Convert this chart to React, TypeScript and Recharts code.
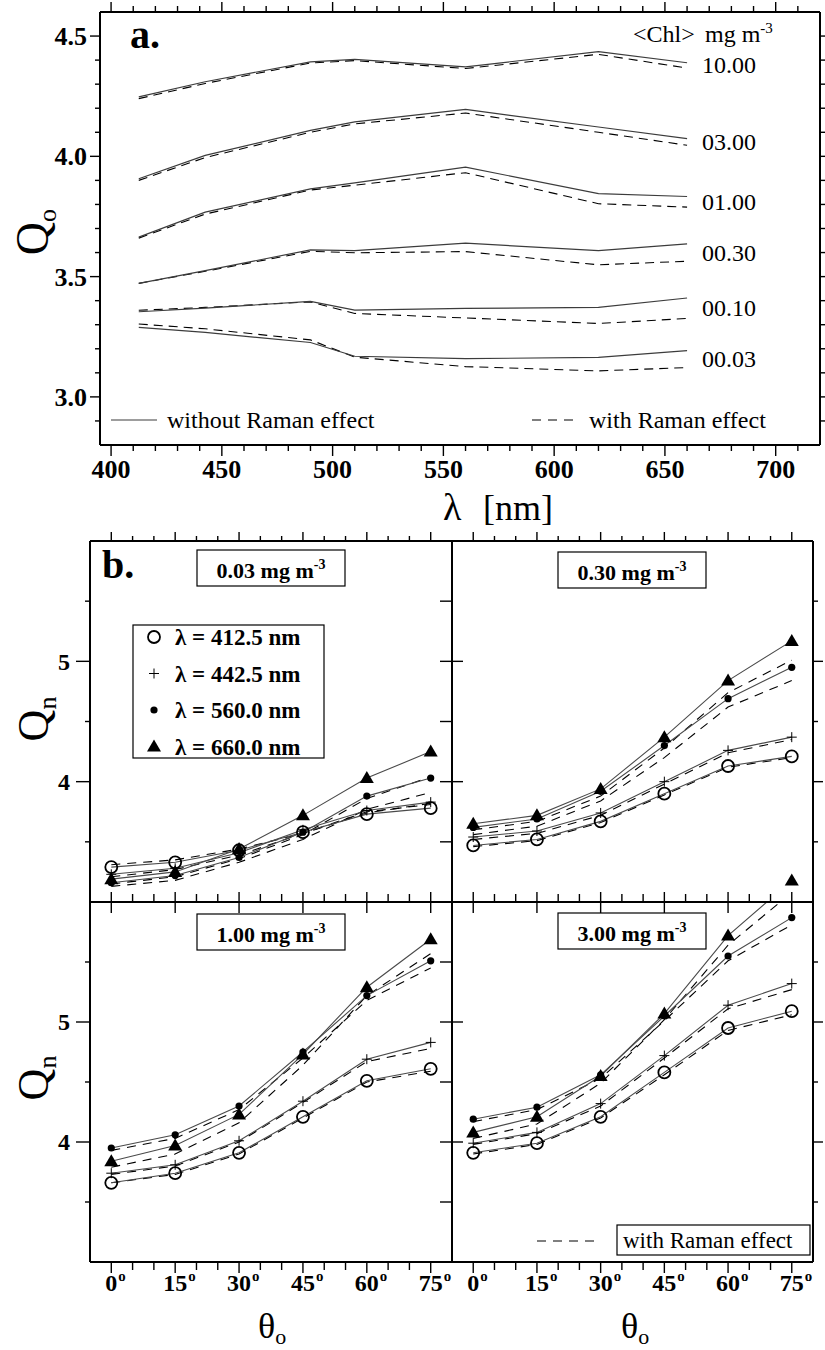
import type { FC, ReactNode } from "react"
import { LineChart, Line, XAxis, YAxis, LabelList } from "recharts"

const SERIF = '"Liberation Serif", "Times New Roman", Times, serif'
const INK = "#000"
const FRAME = { stroke: INK, strokeWidth: 2 }

// ---------- panel a: Q0 against wavelength ----------
const wavelengths = [412.5, 442.5, 490, 510, 560, 620, 660]
const lambdaTicks = [400, 410, 420, 430, 440, 450, 460, 470, 480, 490, 500, 510, 520, 530, 540, 550, 560, 570, 580, 590, 600, 610, 620, 630, 640, 650, 660, 670, 680, 690, 700, 710]
const lambdaLabels = [400, 450, 500, 550, 600, 650, 700]
const qoTicks = [2.9, 3.0, 3.1, 3.2, 3.3, 3.4, 3.5, 3.6, 3.7, 3.8, 3.9, 4.0, 4.1, 4.2, 4.3, 4.4, 4.5]
const qoLabels = [3.0, 3.5, 4.0, 4.5]

const qo10 = [4.247, 4.31, 4.393, 4.403, 4.372, 4.435, 4.389]
const qo10Raman = [4.24, 4.303, 4.388, 4.398, 4.365, 4.424, 4.367]
const qo3 = [3.907, 4.004, 4.108, 4.143, 4.195, 4.122, 4.074]
const qo3Raman = [3.9, 3.995, 4.1, 4.135, 4.18, 4.1, 4.046]
const qo1 = [3.664, 3.768, 3.865, 3.89, 3.955, 3.845, 3.833]
const qo1Raman = [3.66, 3.76, 3.86, 3.88, 3.932, 3.803, 3.789]
const qo03 = [3.472, 3.525, 3.611, 3.608, 3.639, 3.608, 3.636]
const qo03Raman = [3.472, 3.522, 3.605, 3.599, 3.604, 3.549, 3.564]
const qo01 = [3.354, 3.369, 3.397, 3.361, 3.368, 3.372, 3.411]
const qo01Raman = [3.36, 3.372, 3.395, 3.347, 3.328, 3.305, 3.326]
const qo003 = [3.289, 3.268, 3.226, 3.169, 3.159, 3.164, 3.192]
const qo003Raman = [3.303, 3.283, 3.237, 3.165, 3.126, 3.108, 3.122]

const qoSeries = [
  { name: "10.00", key: "c10", plain: qo10, raman: qo10Raman },
  { name: "03.00", key: "c3", plain: qo3, raman: qo3Raman },
  { name: "01.00", key: "c1", plain: qo1, raman: qo1Raman },
  { name: "00.30", key: "c03", plain: qo03, raman: qo03Raman },
  { name: "00.10", key: "c01", plain: qo01, raman: qo01Raman },
  { name: "00.03", key: "c003", plain: qo003, raman: qo003Raman },
]

const qoRows = wavelengths.map((wl, i) => {
  const row: Record<string, number> = { wl }
  qoSeries.forEach((s) => {
    row[s.key] = s.plain[i]
    row[s.key + "R"] = s.raman[i]
  })
  return row
})

// ---------- panel b: Qn against solar zenith angle ----------
const zenithAngles = [0, 15, 30, 45, 60, 75]
const thetaTicks = [0, 5, 10, 15, 20, 25, 30, 35, 40, 45, 50, 55, 60, 65, 70, 75]
const thetaLabels = [0, 15, 30, 45, 60, 75]
const qnTicks = [3.5, 4, 4.5, 5, 5.5]
const qnMajor = [4, 5]

const qn003_412 = [3.29, 3.33, 3.43, 3.58, 3.73, 3.78]
const qn003_442 = [3.23, 3.28, 3.41, 3.6, 3.76, 3.83]
const qn003_560 = [3.16, 3.22, 3.37, 3.58, 3.88, 4.03]
const qn003_660 = [3.19, 3.25, 3.44, 3.72, 4.03, 4.25]
const qn003_412r = [3.31, 3.35, 3.44, 3.57, 3.75, 3.81]
const qn003_442r = [3.21, 3.27, 3.39, 3.57, 3.74, 3.82]
const qn003_560r = [3.13, 3.18, 3.33, 3.52, 3.77, 3.91]
const qn003_660r = [3.15, 3.21, 3.36, 3.56, 3.86, 4.04]

const qn030_412 = [3.47, 3.52, 3.67, 3.9, 4.13, 4.21]
const qn030_442 = [3.54, 3.59, 3.74, 4.0, 4.26, 4.37]
const qn030_560 = [3.62, 3.69, 3.92, 4.3, 4.69, 4.95]
const qn030_660 = [3.65, 3.72, 3.94, 4.37, 4.84, 5.17]
const qn030_412r = [3.46, 3.51, 3.66, 3.89, 4.12, 4.2]
const qn030_442r = [3.52, 3.57, 3.72, 3.98, 4.24, 4.35]
const qn030_560r = [3.56, 3.63, 3.84, 4.2, 4.62, 4.84]
const qn030_660r = [3.6, 3.67, 3.88, 4.28, 4.74, 5.01]

const qn100_412 = [3.66, 3.74, 3.91, 4.21, 4.51, 4.61]
const qn100_442 = [3.74, 3.81, 4.01, 4.34, 4.69, 4.83]
const qn100_560 = [3.95, 4.06, 4.3, 4.75, 5.22, 5.51]
const qn100_660 = [3.84, 3.97, 4.23, 4.73, 5.29, 5.69]
const qn100_412r = [3.66, 3.73, 3.9, 4.2, 4.5, 4.59]
const qn100_442r = [3.73, 3.8, 4.0, 4.33, 4.67, 4.78]
const qn100_560r = [3.93, 4.03, 4.27, 4.7, 5.18, 5.45]
const qn100_660r = [3.79, 3.9, 4.16, 4.64, 5.22, 5.57]

const qn300_412 = [3.91, 3.99, 4.21, 4.58, 4.95, 5.09]
const qn300_442 = [3.99, 4.08, 4.32, 4.72, 5.14, 5.32]
const qn300_560 = [4.19, 4.29, 4.56, 5.05, 5.55, 5.87]
const qn300_660 = [4.08, 4.21, 4.55, 5.07, 5.72, 6.18]
const qn300_412r = [3.9, 3.98, 4.2, 4.56, 4.93, 5.06]
const qn300_442r = [3.98, 4.07, 4.3, 4.7, 5.11, 5.27]
const qn300_560r = [4.17, 4.27, 4.53, 5.01, 5.51, 5.81]
const qn300_660r = [4.03, 4.15, 4.49, 5.02, 5.64, 6.08]

type MarkerKind = "circle" | "plus" | "dot" | "triangle"

const bands: { key: string; label: string; marker: MarkerKind }[] = [
  { key: "b412", label: "412.5", marker: "circle" },
  { key: "b442", label: "442.5", marker: "plus" },
  { key: "b560", label: "560.0", marker: "dot" },
  { key: "b660", label: "660.0", marker: "triangle" },
]

interface QnPanelDef {
  title: string
  col: 0 | 1
  row: 0 | 1
  plain: number[][]
  raman: number[][]
}

const qnPanels: QnPanelDef[] = [
  { title: "0.03", col: 0, row: 0, plain: [qn003_412, qn003_442, qn003_560, qn003_660], raman: [qn003_412r, qn003_442r, qn003_560r, qn003_660r] },
  { title: "0.30", col: 1, row: 0, plain: [qn030_412, qn030_442, qn030_560, qn030_660], raman: [qn030_412r, qn030_442r, qn030_560r, qn030_660r] },
  { title: "1.00", col: 0, row: 1, plain: [qn100_412, qn100_442, qn100_560, qn100_660], raman: [qn100_412r, qn100_442r, qn100_560r, qn100_660r] },
  { title: "3.00", col: 1, row: 1, plain: [qn300_412, qn300_442, qn300_560, qn300_660], raman: [qn300_412r, qn300_442r, qn300_560r, qn300_660r] },
]

// ---------- shared helpers ----------
type Side = "left" | "right" | "top" | "bottom"

interface TickSpec {
  side: Side
  major: [number, number]
  minor: [number, number]
  majors: number[]
  labels?: number[]
  format?: (v: number) => string
  gap?: number
  fontSize?: number
  degree?: boolean
}

const OUT: Record<Side, [number, number]> = { left: [-1, 0], right: [1, 0], top: [0, -1], bottom: [0, 1] }
const near = (list: number[], v: number) => list.some((m) => Math.abs(m - v) < 1e-6)

// draws tick marks of two lengths along the normal of the frame edge, plus optional labels
const axisTick = (spec: TickSpec) => (props: any) => {
  const { x, y, payload } = props
  const v: number = payload.value
  const [nx, ny] = OUT[spec.side]
  const [a, b] = near(spec.majors, v) ? spec.major : spec.minor
  const fs = spec.fontSize ?? 24
  const gap = spec.gap ?? 0
  let label: ReactNode = null
  if (spec.labels && near(spec.labels, v)) {
    const txt = spec.format ? spec.format(v) : String(v)
    if (spec.side === "left") {
      label = (
        <text x={x - gap} y={y} dy="0.35em" textAnchor="end" fontSize={fs} fontWeight="bold" fontFamily={SERIF} fill={INK}>
          {txt}
        </text>
      )
    } else {
      const base = y + gap + fs * 0.68
      label = (
        <g>
          <text x={x} y={base} textAnchor="middle" fontSize={fs} fontWeight="bold" fontFamily={SERIF} fill={INK}>
            {txt}
          </text>
          {spec.degree && (
            <text x={x + txt.length * fs * 0.25 + 1} y={base - fs * 0.42} fontSize={fs * 0.62} fontWeight="bold" fontFamily={SERIF} fill={INK}>
              o
            </text>
          )}
        </g>
      )
    }
  }
  return (
    <g>
      {a !== b && <line x1={x + nx * a} y1={y + ny * a} x2={x + nx * b} y2={y + ny * b} stroke={INK} strokeWidth={1.4} />}
      {label}
    </g>
  )
}

const MarkerShape: FC<{ kind: MarkerKind; x: number; y: number }> = ({ kind, x, y }) => {
  switch (kind) {
    case "circle":
      return <circle cx={x} cy={y} r={6} fill="none" stroke={INK} strokeWidth={1.8} />
    case "plus":
      return <path d={`M${x - 5},${y}H${x + 5}M${x},${y - 5}V${y + 5}`} stroke={INK} strokeWidth={1} fill="none" />
    case "dot":
      return <circle cx={x} cy={y} r={3.6} fill={INK} />
    default:
      return <path d={`M${x},${y - 7}L${x + 7},${y + 5}L${x - 7},${y + 5}Z`} fill={INK} />
  }
}

const markerLabel = (kind: MarkerKind) => (p: any) => {
  const x = p.x ?? p.viewBox?.x
  const y = p.y ?? p.viewBox?.y
  if (x == null || y == null) return null
  return <MarkerShape kind={kind} x={x} y={y} />
}

const endLabel = (text: string) => (p: any) => {
  if (p.index !== wavelengths.length - 1) return null
  const x = p.x ?? p.viewBox?.x
  const y = p.y ?? p.viewBox?.y
  return (
    <text x={x + 15} y={y + 8} fontSize={24} fontFamily={SERIF} fill={INK}>
      {text}
    </text>
  )
}

// ---------- panel a chart ----------
const QoChart: FC = () => (
  <div style={{ position: "absolute", left: 0, top: 0 }}>
    <LineChart width={825} height={520} data={qoRows} margin={{ top: 0, right: 0, bottom: 0, left: 0 }}>
      <XAxis
        xAxisId="bottom"
        dataKey="wl"
        type="number"
        domain={[395, 720]}
        allowDataOverflow
        ticks={lambdaTicks}
        interval={0}
        orientation="bottom"
        height={75}
        tickSize={0}
        tickMargin={0}
        tickLine={false}
        axisLine={FRAME}
        tick={axisTick({ side: "bottom", major: [0, 11], minor: [0, 6], majors: lambdaLabels, labels: lambdaLabels, gap: 15, fontSize: 26 })}
      />
      <XAxis
        xAxisId="top"
        dataKey="wl"
        type="number"
        domain={[395, 720]}
        allowDataOverflow
        ticks={lambdaTicks}
        interval={0}
        orientation="top"
        height={12}
        tickSize={0}
        tickMargin={0}
        tickLine={false}
        axisLine={FRAME}
        tick={axisTick({ side: "top", major: [0, 10], minor: [0, 6], majors: lambdaLabels })}
      />
      <YAxis
        yAxisId="left"
        type="number"
        domain={[2.8, 4.6]}
        allowDataOverflow
        ticks={qoTicks}
        interval={0}
        width={100}
        tickSize={0}
        tickMargin={0}
        tickLine={false}
        axisLine={FRAME}
        tick={axisTick({ side: "left", major: [0, 10], minor: [0, 5], majors: qoLabels, labels: qoLabels, format: (v) => v.toFixed(1), gap: 13, fontSize: 26 })}
      />
      <YAxis
        yAxisId="right"
        orientation="right"
        type="number"
        domain={[2.8, 4.6]}
        allowDataOverflow
        ticks={qoTicks}
        interval={0}
        width={5}
        tickSize={0}
        tickMargin={0}
        tickLine={false}
        axisLine={FRAME}
        tick={axisTick({ side: "right", major: [0, 5], minor: [0, 5], majors: qoLabels })}
      />
      {qoSeries.map((s) => (
        <Line key={s.key + "R"} xAxisId="bottom" yAxisId="left" type="linear" dataKey={s.key + "R"} stroke={INK} strokeWidth={1.1} strokeDasharray="9 6" dot={false} isAnimationActive={false} />
      ))}
      {qoSeries.map((s) => (
        <Line key={s.key} xAxisId="bottom" yAxisId="left" type="linear" dataKey={s.key} stroke="#3c3c3c" strokeWidth={1.2} dot={false} isAnimationActive={false} />
      ))}
      {/* concentration tags sit midway between each pair of curve ends */}
      {qoSeries.map((s) => (
        <Line
          key={s.key + "tag"}
          xAxisId="bottom"
          yAxisId="left"
          dataKey={(r: Record<string, number>) => (r[s.key] + r[s.key + "R"]) / 2}
          stroke="none"
          dot={false}
          activeDot={false}
          isAnimationActive={false}
        >
          <LabelList content={endLabel(s.name)} />
        </Line>
      ))}
    </LineChart>
  </div>
)

// ---------- panel b sub-charts ----------
const QnChart: FC<{ panel: QnPanelDef }> = ({ panel }) => {
  const { col, row } = panel
  const wl = col === 0 ? 90 : 15
  const wr = col === 0 ? 15 : 12
  const plotW = col === 0 ? 362 : 361
  const mt = row === 0 ? 0 : 40
  const ht = 12
  const hb = row === 0 ? 14 : 40
  const plotH = row === 0 ? 361 : 360
  const left = (col === 0 ? 90 : 452) - wl
  const top = (row === 0 ? 541 : 902) - ht - mt
  const width = wl + plotW + wr
  const height = mt + ht + plotH + hb

  const data = zenithAngles.map((t, i) => {
    const r: Record<string, number> = { theta: t }
    bands.forEach((b, j) => {
      r[b.key] = panel.plain[j][i]
      r[b.key + "R"] = panel.raman[j][i]
    })
    return r
  })

  const bottomSpec: TickSpec =
    row === 0
      ? { side: "bottom", major: [-10, 0], minor: [-8, 0], majors: thetaLabels }
      : { side: "bottom", major: [0, 11], minor: [0, 8], majors: thetaLabels, labels: thetaLabels, gap: 13, fontSize: 24, degree: true }
  const topSpec: TickSpec =
    row === 0 ? { side: "top", major: [0, 9], minor: [0, 5], majors: thetaLabels } : { side: "top", major: [-11, 0], minor: [0, 0], majors: thetaLabels }
  const leftSpec: TickSpec =
    col === 0
      ? { side: "left", major: [0, 14], minor: [0, 5], majors: qnMajor, labels: qnMajor, gap: 20, fontSize: 24 }
      : { side: "left", major: [-11, 0], minor: [0, 0], majors: qnMajor }
  const rightSpec: TickSpec =
    col === 0 ? { side: "right", major: [-12, 0], minor: [-12, 0], majors: qnMajor } : { side: "right", major: [0, 10], minor: [0, 5], majors: qnMajor }

  const common = { tickSize: 0, tickMargin: 0, tickLine: false, axisLine: FRAME, interval: 0 as const }

  return (
    <div style={{ position: "absolute", left, top }}>
      <LineChart width={width} height={height} data={data} margin={{ top: mt, right: 0, bottom: 0, left: 0 }}>
        <XAxis xAxisId="bottom" dataKey="theta" type="number" domain={[-5, 80]} allowDataOverflow ticks={thetaTicks} orientation="bottom" height={hb} {...common} tick={axisTick(bottomSpec)} />
        <XAxis xAxisId="top" dataKey="theta" type="number" domain={[-5, 80]} allowDataOverflow ticks={thetaTicks} orientation="top" height={ht} {...common} tick={axisTick(topSpec)} />
        <YAxis yAxisId="left" type="number" domain={[3, 6]} allowDataOverflow ticks={qnTicks} width={wl} {...common} tick={axisTick(leftSpec)} />
        <YAxis yAxisId="right" orientation="right" type="number" domain={[3, 6]} allowDataOverflow ticks={qnTicks} width={wr} {...common} tick={axisTick(rightSpec)} />
        {bands.map((b) => (
          <Line key={b.key + "R"} xAxisId="bottom" yAxisId="left" type="linear" dataKey={b.key + "R"} stroke={INK} strokeWidth={1.1} strokeDasharray="9 7" dot={false} isAnimationActive={false} />
        ))}
        {bands.map((b) => (
          <Line key={b.key} xAxisId="bottom" yAxisId="left" type="linear" dataKey={b.key} stroke="#4a4a4a" strokeWidth={1.1} dot={false} isAnimationActive={false}>
            {/* markers go through the label layer so they are not clipped at the frame */}
            <LabelList content={markerLabel(b.marker)} />
          </Line>
        ))}
      </LineChart>
    </div>
  )
}

// ---------- static annotation layer ----------
const titleBoxes = [
  { title: "0.03", x: 197, y: 550 },
  { title: "0.30", x: 558, y: 552 },
  { title: "1.00", x: 197, y: 914 },
  { title: "3.00", x: 558, y: 913 },
]

const Annotations: FC = () => (
  <svg width={825} height={1350} style={{ position: "absolute", left: 0, top: 0, pointerEvents: "none" }} fontFamily={SERIF} fill={INK}>
    {/* panel a */}
    <text x={130} y={48} fontSize={40} fontWeight="bold">a.</text>
    <text y={42} fontSize={24}>
      <tspan x={633}>{"<Chl>"}</tspan>
      <tspan x={705}>mg m</tspan>
      <tspan dy={-9} fontSize={15}>-3</tspan>
    </text>
    <line x1={111} x2={157} y1={420} y2={420} stroke="#3c3c3c" strokeWidth={1.2} />
    <text x={167} y={428} fontSize={24}>without Raman effect</text>
    <line x1={532} x2={578} y1={420} y2={420} stroke={INK} strokeWidth={1.1} strokeDasharray="9 7" />
    <text x={589} y={428} fontSize={24}>with Raman effect</text>
    <text x={443} y={520} fontSize={38}>λ</text>
    <text x={483} y={520} fontSize={36}>[nm]</text>
    <text transform="rotate(-90 33 232)" x={33} y={247} textAnchor="middle" fontSize={46}>
      Q<tspan dy={8} fontSize={26}>o</tspan>
    </text>

    {/* panel b */}
    <text x={102} y={578} fontSize={40} fontWeight="bold">b.</text>
    {titleBoxes.map((b) => (
      <g key={b.title}>
        <rect x={b.x} y={b.y} width={148} height={36} fill="#fff" stroke={INK} strokeWidth={1.2} />
        <text x={b.x + 74} y={b.y + 28} textAnchor="middle" fontSize={22} fontWeight="bold">
          {b.title} mg m<tspan dy={-9} fontSize={14}>-3</tspan>
        </text>
      </g>
    ))}
    <rect x={133} y={625} width={191} height={133} fill="#fff" stroke={INK} strokeWidth={1.2} />
    {bands.map((b, i) => (
      <g key={b.key}>
        <MarkerShape kind={b.marker} x={154} y={637 + 36.5 * i} />
        <text x={175} y={645 + 36.5 * i} fontSize={23} fontWeight="bold">
          λ = {b.label} nm
        </text>
      </g>
    ))}
    <line x1={537} x2={600} y1={1241} y2={1241} stroke={INK} strokeWidth={1.1} strokeDasharray="9 7" />
    <rect x={617} y={1225} width={193} height={30} fill="#fff" stroke={INK} strokeWidth={1.2} />
    <text x={623} y={1248} fontSize={23}>with Raman effect</text>
    <text x={258} y={1338} fontSize={36}>
      θ<tspan dy={6} fontSize={22}>o</tspan>
    </text>
    <text x={621} y={1338} fontSize={36}>
      θ<tspan dy={6} fontSize={22}>o</tspan>
    </text>
    <text transform="rotate(-90 33 719)" x={33} y={734} textAnchor="middle" fontSize={44}>
      Q<tspan dy={8} fontSize={26}>n</tspan>
    </text>
    <text transform="rotate(-90 33 1078)" x={33} y={1093} textAnchor="middle" fontSize={44}>
      Q<tspan dy={8} fontSize={26}>n</tspan>
    </text>
  </svg>
)

const App: FC = () => (
  <div style={{ position: "absolute", left: 0, top: 0, width: 825, height: 1350, overflow: "hidden", background: "#fff", fontFamily: SERIF }}>
    <QoChart />
    {qnPanels.map((p) => (
      <QnChart key={p.title} panel={p} />
    ))}
    <Annotations />
  </div>
)

export default App
